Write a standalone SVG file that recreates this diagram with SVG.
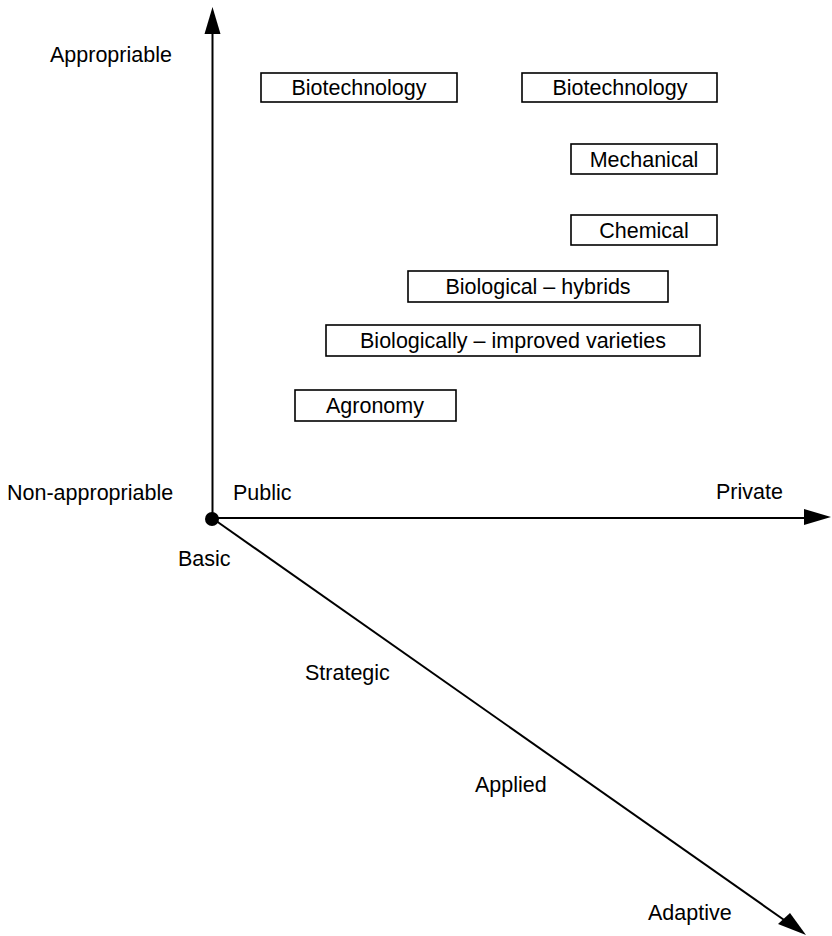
<svg xmlns="http://www.w3.org/2000/svg" width="832" height="936" viewBox="0 0 832 936">
<style>
text{font-family:"Liberation Sans",Arial,sans-serif;font-size:21.5px;fill:#000}
.box rect{fill:#fff;stroke:#000;stroke-width:1.6}
.box text{text-anchor:middle}
.axis{stroke:#000;stroke-width:2;fill:none}
</style>
<rect width="832" height="936" fill="#fff"/>
<g id="connectors">
<line class="axis" x1="212.5" y1="519" x2="212.5" y2="30"/>
<polygon points="212.5,7 204.5,34 220.5,34" fill="#000"/>
<line class="axis" x1="212" y1="518" x2="808" y2="518"/>
<polygon points="831,517 804,509 804,525" fill="#000"/>
<line class="axis" x1="212" y1="518" x2="787" y2="922"/>
<polygon points="806,935 778,924 790,913" fill="#000"/>
<circle cx="212" cy="519" r="7" fill="#000"/>
</g>
<g id="axis-labels">
<text x="50" y="62">Appropriable</text>
<text x="7" y="500">Non-appropriable</text>
<text x="233" y="500">Public</text>
<text x="716" y="499">Private</text>
<text x="178" y="566">Basic</text>
<text x="305" y="680">Strategic</text>
<text x="475" y="792">Applied</text>
<text x="648" y="920">Adaptive</text>
</g>
<g id="biotech-public" class="box"><rect x="261" y="73" width="196" height="29"/><text x="359" y="95">Biotechnology</text></g>
<g id="biotech-private" class="box"><rect x="522" y="73" width="195" height="29"/><text x="620" y="95">Biotechnology</text></g>
<g id="mechanical" class="box"><rect x="571" y="144" width="146" height="30"/><text x="644" y="167">Mechanical</text></g>
<g id="chemical" class="box"><rect x="571" y="215" width="146" height="30"/><text x="644" y="238">Chemical</text></g>
<g id="hybrids" class="box"><rect x="408" y="271" width="260" height="31"/><text x="538" y="294">Biological – hybrids</text></g>
<g id="varieties" class="box"><rect x="326" y="325" width="374" height="31"/><text x="513" y="348">Biologically – improved varieties</text></g>
<g id="agronomy" class="box"><rect x="295" y="390" width="161" height="31"/><text x="375" y="413">Agronomy</text></g>
</svg>
